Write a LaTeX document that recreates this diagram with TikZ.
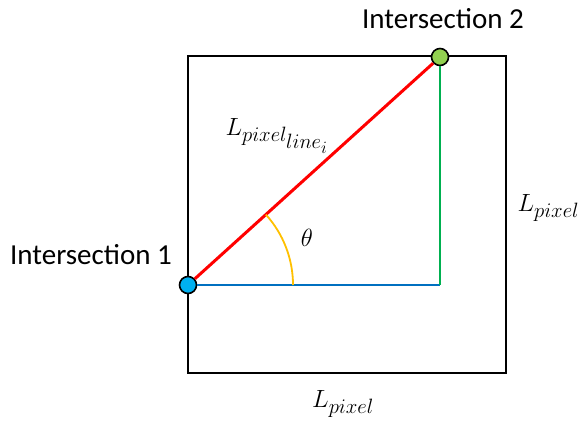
\documentclass[tikz,border=0pt]{standalone}
\usepackage{fontspec}
\setmainfont{Carlito}
\usepackage{amsmath}
\usetikzlibrary{calc,positioning}
\definecolor{red1}{RGB}{255,0,0}
\definecolor{blue1}{RGB}{0,112,192}
\definecolor{green1}{RGB}{0,176,80}
\definecolor{orange1}{RGB}{255,192,0}
\definecolor{cyan1}{RGB}{0,176,240}
\definecolor{lime1}{RGB}{146,208,80}

\begin{document}
\begin{tikzpicture}[x=1pt,y=-1pt,
  pt/.style={circle, draw, line width=1.6pt, inner sep=0pt, minimum size=17pt},
  lbl/.style={font=\fontsize{29}{34}\selectfont},
  mlbl/.style={font=\fontsize{32}{36}\selectfont}]

\useasboundingbox (0,0) rectangle (588,425);

% Pixel square
\draw[line width=2pt] (188,56) rectangle (506,373);

% Intersections and right angle corner
\node[pt, fill=cyan1] (p1) at (188,285) {};
\node[pt, fill=lime1] (p2) at (440,57) {};
\coordinate (c) at (440,285);

% Legs and hypotenuse
\draw[blue1, line width=1.8pt] (p1) -- (c);
\draw[green1, line width=1.8pt] (p2) -- (c);
\draw[red1, line width=3pt] (p1) -- (p2);

% Angle theta
\draw[orange1, line width=1.8pt] ($(p1.center)+(105,0)$) arc[start angle=0, end angle=-42.1, radius=105];
\node[mlbl] (th) at (307,238) {$\theta$};

% Labels
\node[lbl] (i1) at (91,255) {Intersection 1};
\node[lbl] (i2) at (443,19) {Intersection 2};
\node[mlbl, anchor=west] (lh) at (222,136) {$L_{pixel_{\scriptstyle line_i}}$};
\node[mlbl, anchor=west] (lr) at (514,208) {$L_{pixel}$};
\node[mlbl] (lb) at (343,404) {$L_{pixel}$};

\end{tikzpicture}
\end{document}
